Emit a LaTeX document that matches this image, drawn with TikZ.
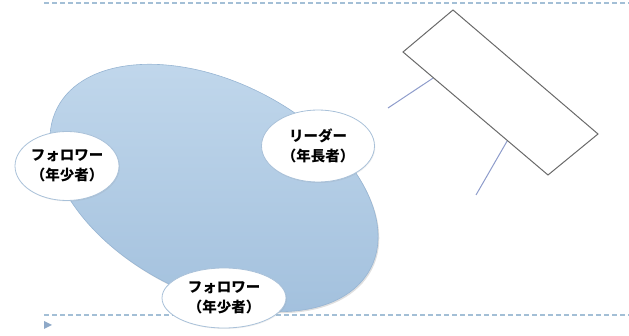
\documentclass[tikz,border=0pt]{standalone}
\usepackage{fontspec}
\newfontfamily\jp{Noto Sans CJK JP}
\usetikzlibrary{shapes.geometric,calc,shadows}
\definecolor{dashc}{HTML}{A3BFD6}
\definecolor{blobtop}{HTML}{C2D8EC}
\definecolor{blobbot}{HTML}{A2C0DD}
\definecolor{blobedge}{HTML}{97B5D3}
\definecolor{bubedge}{HTML}{A9C1D9}
\definecolor{linkc}{HTML}{8E9CCB}
\definecolor{rectc}{HTML}{6A6A6A}
\definecolor{markc}{HTML}{8EA9C8}
\tikzset{
  guide/.style={draw=dashc, line width=1.2pt, dash pattern=on 5pt off 3pt},
  blob/.style={ellipse, draw=blobedge, line width=0.6pt, top color=blobtop, bottom color=blobbot,
    inner sep=0pt, drop shadow={opacity=0.25, shadow xshift=1.2pt, shadow yshift=-1.5pt}},
  bubble/.style={ellipse, draw=bubedge, line width=0.8pt, fill=white, inner sep=0pt,
    align=center, font=\jp\bfseries\fontsize{14.5}{19.5}\selectfont,
    drop shadow={opacity=0.12, shadow xshift=0.8pt, shadow yshift=-1pt}},
  link/.style={draw=linkc, line width=1pt},
  board/.style={draw=rectc, line width=1pt, fill=white, line join=miter},
}
\begin{document}
\begin{tikzpicture}[x=1pt,y=-1pt]
\useasboundingbox (0,0) rectangle (629,336);
% guide lines
\coordinate (gt1) at (44,3);
\coordinate (gt2) at (629,3);
\coordinate (gb1) at (44,315);
\coordinate (gb2) at (629,315);
\draw[guide] (gt1) -- (gt2);
\draw[guide] (gb1) -- (gb2);
\coordinate (m1) at (44,321);
\coordinate (m2) at (52,325);
\coordinate (m3) at (44,329);
\fill[markc] (m1) -- (m2) -- (m3) -- cycle;
% group
\node[blob, minimum width=352pt, minimum height=212pt, rotate=-27] (group) at (214,188) {};
\node[bubble, minimum width=113pt, minimum height=72pt] (leader) at (318,146) {リーダー\\（年長者）};
\node[bubble, minimum width=104pt, minimum height=69pt] (f1) at (67,166) {フォロワー\\（年少者）};
\node[bubble, minimum width=124pt, minimum height=60pt] (f2) at (224,298) {フォロワー\\（年少者）};
% board
\coordinate (rT) at (453,10);
\coordinate (rR) at (598,134);
\coordinate (rB) at (548,175);
\coordinate (rL) at (403,52);
\coordinate (l1) at (388,108);
\coordinate (l2) at (476,195);
\draw[link] (l1) -- ($(rL)!0.21!(rB)$);
\draw[link] (l2) -- ($(rL)!0.72!(rB)$);
\draw[board] (rT) -- (rR) -- (rB) -- (rL) -- cycle;
\end{tikzpicture}
\end{document}
